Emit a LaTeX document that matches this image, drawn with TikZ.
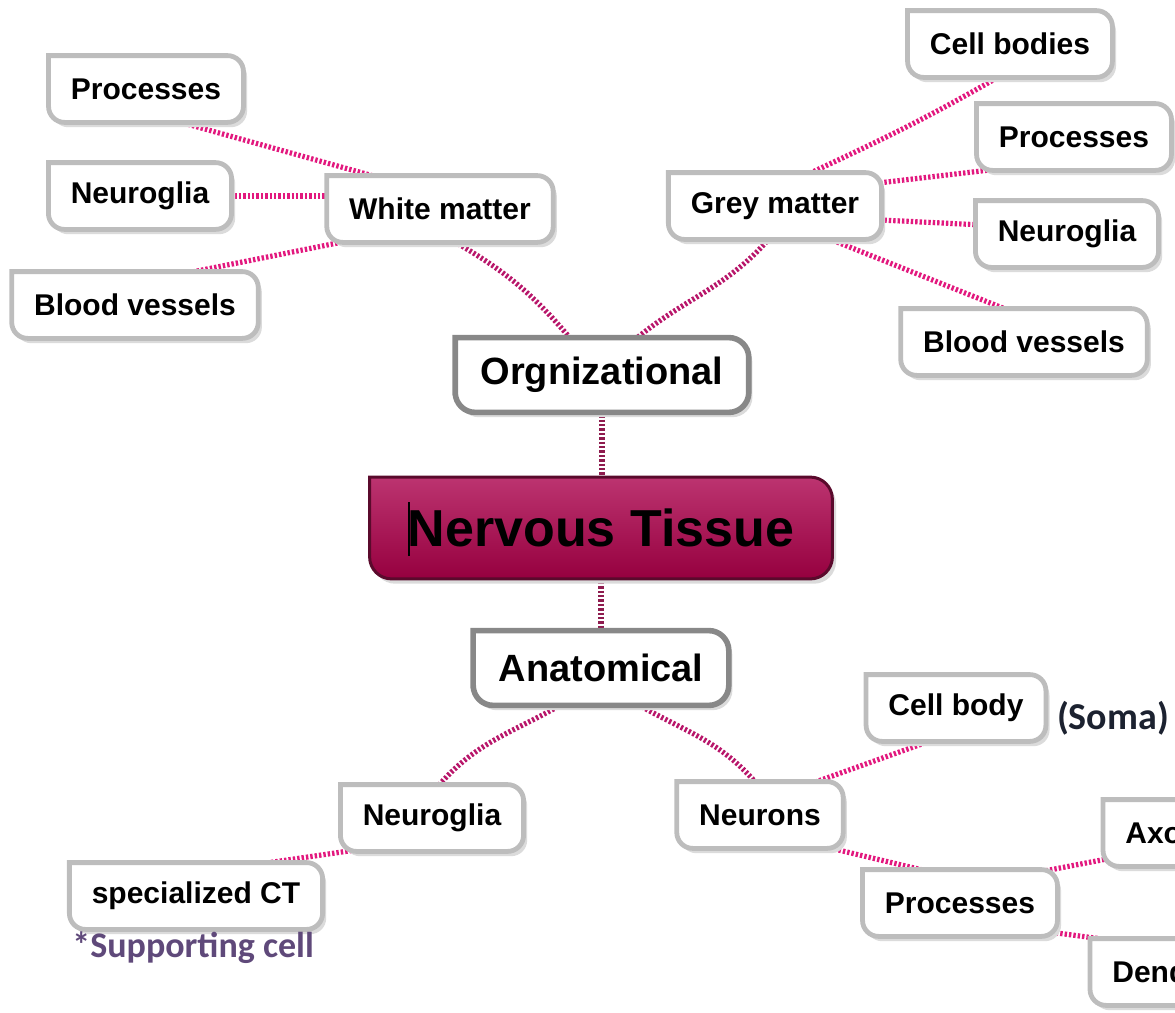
\documentclass[tikz,border=0pt]{standalone}
\usepackage{fontspec}
\setmainfont{Liberation Sans}
\newfontfamily\calfont{Carlito}
\usetikzlibrary{calc}
\pgfdeclarelayer{links}
\pgfdeclarelayer{frames}
\pgfsetlayers{links,frames,main}
\definecolor{wireOne}{HTML}{8E1B4E}
\definecolor{wireTwo}{HTML}{B8166A}
\definecolor{wireThree}{HTML}{E2187E}
\definecolor{frameGrey}{HTML}{BDBDBD}
\definecolor{frameDark}{HTML}{888888}
\definecolor{hubTop}{HTML}{BC3470}
\definecolor{hubBottom}{HTML}{96003F}
\definecolor{hubEdge}{HTML}{5A0A2C}
\definecolor{noteInk}{HTML}{5F497A}
\definecolor{somaInk}{HTML}{1C2230}
\tikzset{
  boxpath/.style 2 args={insert path={(#1.north) [rounded corners=#2] -- (#1.north east) -- (#1.south east) -- (#1.south west) -- (#1.west) [sharp corners] -- (#1.north west) -- cycle}},
  leaf/.style={font=\fontsize{15}{18}\selectfont\bfseries, inner xsep=11pt, inner ysep=0pt, minimum height=33pt},
  branch/.style={font=\fontsize{19}{22}\selectfont\bfseries, inner xsep=12.5pt, inner ysep=0pt, minimum height=37pt},
  hub/.style={font=\fontsize{26}{30}\selectfont\bfseries, minimum width=231pt, minimum height=50.5pt, inner sep=0pt},
  wire/.style={line width=2.6pt, dash pattern=on 1.2pt off 1pt, shorten <=-3pt, shorten >=-3pt},
  tierone/.style={wire, draw=wireOne},
  tiertwo/.style={wire, draw=wireTwo},
  tierthree/.style={wire, draw=wireThree},
  leafframe/.style={draw=frameGrey, fill=white, line width=2.4pt},
  branchframe/.style={draw=frameDark, fill=white, line width=2.8pt},
  shadowfill/.style={fill=black!14, draw=none, transform canvas={shift={(1.8pt,-2.4pt)}}}
}
\begin{document}
\begin{tikzpicture}[x=0.5pt,y=-0.5pt]
  \useasboundingbox (0,0) rectangle (1175,1013);
  \clip (0,0) rectangle (1175,1013);
  \node[leaf] (p1) at (146,89) {Processes};
  \node[leaf] (n1) at (140,196) {Neuroglia};
  \node[leaf] (b1) at (135,305) {Blood vessels};
  \node[leaf] (wm) at (440,209) {White matter};
  \node[leaf] (gm) at (775,206) {Grey matter};
  \node[leaf] (cb) at (1010,44) {Cell bodies};
  \node[leaf] (p2) at (1074,137) {Processes};
  \node[leaf] (n2) at (1067,234) {Neuroglia};
  \node[leaf] (b2) at (1024,342) {Blood vessels};
  \node[branch] (org) at (602,375) {Orgnizational};
  \node[hub] (nt) at (601,528) {Nervous Tissue};
  \node[branch] (anat) at (601,668) {Anatomical};
  \node[leaf] (ng) at (432,818) {Neuroglia};
  \node[leaf] (sct) at (196,896) {specialized CT};
  \node[leaf] (nr) at (760,815) {Neurons};
  \node[leaf] (cb2) at (956,708) {Cell body};
  \node[leaf] (pr) at (960,903) {Processes};
  \node[leaf, anchor=west] (ax) at (1103,833) {Axons};
  \node[leaf, anchor=west] (den) at (1090,972) {Dendrites};
  \node[font=\calfont\fontsize{19}{22}\selectfont\bfseries, text=somaInk] (soma) at (1113,718) {(Soma)};
  \node[font=\calfont\fontsize{18}{22}\selectfont\bfseries, text=noteInk, anchor=west, inner sep=0pt] (note) at (72,948) {*Supporting cell};
  \draw[line width=0.7pt] (409,502) -- (409,556);
  \begin{pgfonlayer}{links}
    \clip (0,0) rectangle (1175,1013);
    \draw[tierone] (org.south) -- (org.south |- nt.north);
    \draw[tierone] (nt.south) -- (nt.south |- anat.north);
    \draw[tiertwo] ($(wm.south west)!.57!(wm.south east)$) to[out=-30,in=130] ($(org.north west)!.39!(org.north east)$);
    \draw[tiertwo] ($(gm.south west)!.47!(gm.south east)$) to[out=-130,in=40] ($(org.north west)!.62!(org.north east)$);
    \draw[tiertwo] ($(anat.south west)!.34!(anat.south east)$) to[out=-150,in=50] ($(ng.north west)!.54!(ng.north east)$);
    \draw[tiertwo] ($(anat.south west)!.65!(anat.south east)$) to[out=-30,in=130] ($(nr.north west)!.47!(nr.north east)$);
    \draw[tierthree] ($(p1.south west)!.68!(p1.south east)$) -- ($(wm.north west)!.2!(wm.north east)$);
    \draw[tierthree] (n1.east) -- (n1.east -| wm.west);
    \draw[tierthree] ($(b1.north west)!.74!(b1.north east)$) -- ($(wm.south west)!.06!(wm.south east)$);
    \draw[tierthree] ($(gm.north west)!.67!(gm.north east)$) to[out=25,in=-150] ($(cb.south west)!.44!(cb.south east)$);
    \draw[tierthree] ($(gm.north east)!.15!(gm.south east)$) -- ($(p2.south west)!.05!(p2.south east)$);
    \draw[tierthree] ($(gm.north east)!.71!(gm.south east)$) -- ($(n2.north west)!.36!(n2.south west)$);
    \draw[tierthree] ($(gm.south west)!.76!(gm.south east)$) -- ($(b2.north west)!.42!(b2.north east)$);
    \draw[tierthree] ($(ng.south west)!.03!(ng.south east)$) -- ($(sct.north west)!.79!(sct.north east)$);
    \draw[tierthree] ($(nr.north west)!.84!(nr.north east)$) -- ($(cb2.south west)!.35!(cb2.south east)$);
    \draw[tierthree] ($(nr.south west)!.93!(nr.south east)$) -- ($(pr.north west)!.3!(pr.north east)$);
    \draw[tierthree] ($(pr.north west)!.97!(pr.north east)$) -- ($(ax.north west)!.9!(ax.south west)$);
    \draw[tierthree] ($(pr.north east)!.95!(pr.south east)$) -- ($(den.north west)!.05!(den.north east)$);
  \end{pgfonlayer}
  \begin{pgfonlayer}{frames}
    \clip (0,0) rectangle (1175,1013);
    \foreach \n in {p1,n1,b1,wm,gm,cb,p2,n2,b2,ng,sct,nr,cb2,pr,ax,den} {
      \fill[shadowfill] [boxpath={\n}{8pt}];
      \draw[leafframe] [boxpath={\n}{8pt}];
    }
    \foreach \n in {org,anat} {
      \fill[shadowfill] [boxpath={\n}{10pt}];
      \draw[branchframe] [boxpath={\n}{10pt}];
    }
    \fill[shadowfill] [boxpath={nt}{11pt}];
    \shade[top color=hubTop, bottom color=hubBottom] [boxpath={nt}{11pt}];
    \draw[hubEdge, line width=1.5pt] [boxpath={nt}{11pt}];
  \end{pgfonlayer}
\end{tikzpicture}
\end{document}
